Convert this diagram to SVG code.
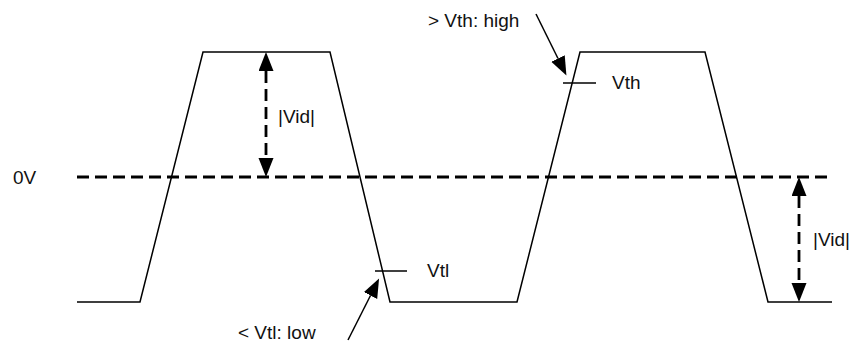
<svg xmlns="http://www.w3.org/2000/svg" width="858" height="343" viewBox="0 0 858 343">
<defs>
<style>
.wave{fill:none;stroke:#000;stroke-width:1.5;stroke-linejoin:miter}
.tick{fill:none;stroke:#000;stroke-width:1.5}
.dash{fill:none;stroke:#000;stroke-width:2.8;stroke-dasharray:12 6}
.arr{fill:none;stroke:#000;stroke-width:1.5}
.lbl{font-family:"Liberation Sans",Arial,Helvetica,sans-serif;font-size:19px;fill:#111}
</style>
<marker id="ah" markerUnits="userSpaceOnUse" markerWidth="20" markerHeight="16" refX="0" refY="7.5" orient="auto-start-reverse" viewBox="0 0 20 16">
<path d="M0,0 L19,7.5 L0,15 Z" fill="#000"/>
</marker>
</defs>
<rect width="858" height="343" fill="#fff"/>
<g id="waveform">
<polyline class="wave" points="77,302 140,302 203,52 330,52 390,302 517,302 580,52 705,52 768,302 832,302"/>
</g>
<g id="zero-line">
<line class="dash" x1="77" y1="177" x2="832" y2="177"/>
<text class="lbl" x="13" y="184">0V</text>
</g>
<g id="vth">
<line class="tick" x1="563" y1="83" x2="596" y2="83"/>
<text class="lbl" x="612" y="89">Vth</text>
</g>
<g id="vtl">
<line class="tick" x1="375" y1="271" x2="407" y2="271"/>
<text class="lbl" x="427" y="277">Vtl</text>
</g>
<g id="vth-high">
<text class="lbl" x="428" y="27">&gt; Vth: high</text>
</g>
<g id="vtl-low">
<text class="lbl" x="238" y="339">&lt; Vtl: low</text>
</g>
<g id="vid-top">
<text class="lbl" x="278" y="123">|Vid|</text>
</g>
<g id="vid-bottom">
<text class="lbl" x="813" y="246">|Vid|</text>
</g>
<g id="connectors">
<line class="dash" x1="266" y1="71" x2="266" y2="158" marker-start="url(#ah)" marker-end="url(#ah)"/>
<line class="dash" x1="799" y1="196" x2="799" y2="283" marker-start="url(#ah)" marker-end="url(#ah)"/>
<line class="arr" x1="536" y1="14" x2="558" y2="58.5" marker-end="url(#ah)"/>
<line class="arr" x1="348" y1="340" x2="370.5" y2="295.5" marker-end="url(#ah)"/>
</g>
</svg>
